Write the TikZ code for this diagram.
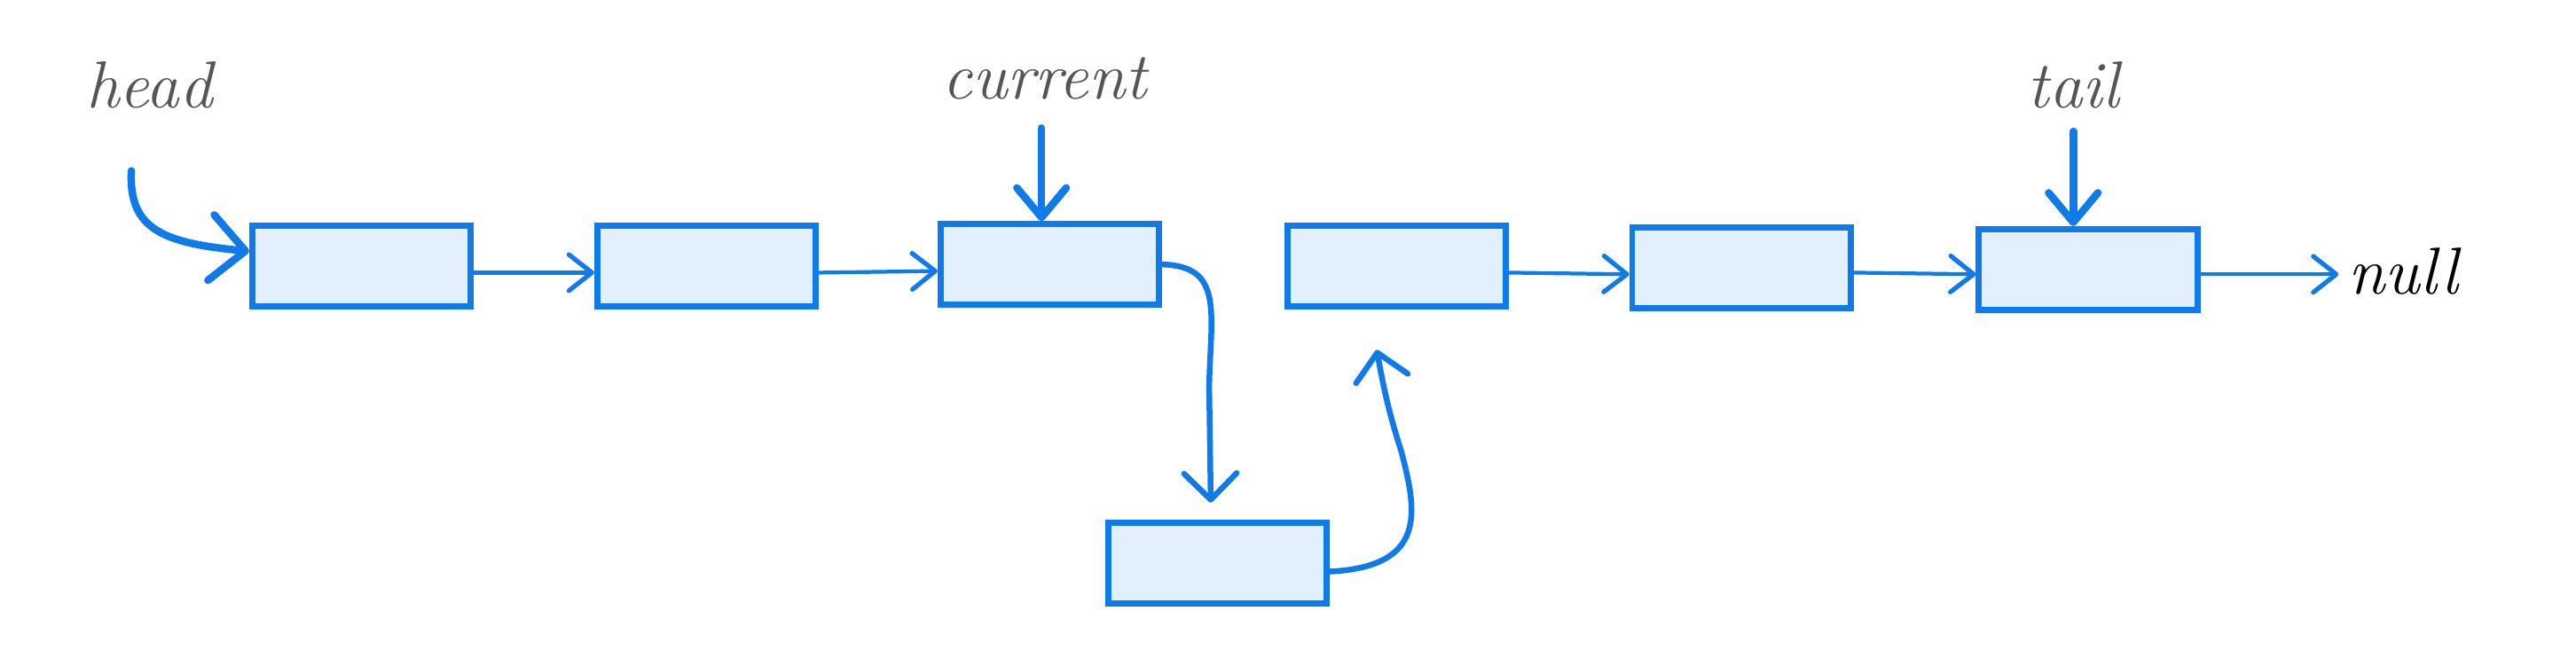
\documentclass[tikz,border=0pt]{standalone}
\usepackage{tikz}
\usetikzlibrary{arrows.meta}

\definecolor{lblue}{HTML}{0F7BEB}
\definecolor{lfill}{HTML}{E2F0FD}
\definecolor{lgray}{HTML}{555555}

\tikzset{
  cell/.style={draw=lblue, fill=lfill, line width=2.1pt,
    minimum width=2.66cm, minimum height=0.98cm, inner sep=0pt},
  link/.style={lblue, line width=1.3pt, line cap=round,
    -{Straight Barb[length=0.28cm, width=0.44cm, line width=1.6pt, round]}},
  detour/.style={lblue, line width=2pt, line cap=round,
    -{Straight Barb[length=0.32cm, width=0.64cm, round]}},
  ptr/.style={lblue, line width=2.6pt, line cap=round,
    -{Straight Barb[length=0.36cm, width=0.6cm, round]}},
  lbl/.style={text=lgray, font=\fontsize{23}{28}\selectfont\itshape}
}

\begin{document}
\begin{tikzpicture}[x=0.02cm, y=-0.02cm]
\useasboundingbox (0,0) rectangle (1568,405);

% list cells
\node[cell] (b1) at (220,162) {};
\node[cell] (b2) at (430,162) {};
\node[cell] (b3) at (639,161) {};
\node[cell] (b4) at (850,162) {};
\node[cell] (b5) at (1060,163) {};
\node[cell] (b6) at (1271,164) {};
\node[cell] (b7) at (741,343) {};

% labels
\node[lbl] (head) at (91,52) {head};
\node[lbl] (current) at (636,48) {current};
\node[lbl] (tail) at (1262,52) {tail};
\node[lbl, text=black] (null) at (1463,165) {null};

\coordinate (hp) at (80,104);
\coordinate (cp) at (634,78);
\coordinate (tp) at (1262,80);
\coordinate (dn) at (737,306);
\coordinate (up) at (838,213);

% pointers
\draw[ptr, -{Straight Barb[length=0.42cm, width=0.8cm, round]}]
  (hp) .. controls (78,140) and (100,148) .. ([yshift=0.18cm]b1.west);
\draw[ptr] (cp) -- (cp |- b3.north);
\draw[ptr] (tp) -- (tp |- b6.north);

% next links
\draw[link] ([yshift=-0.08cm]b1.east) -- ([yshift=-0.08cm]b2.west);
\draw[link] ([yshift=-0.08cm]b2.east) -- ([yshift=-0.08cm]b3.west);
\draw[link] ([yshift=-0.08cm]b4.east) -- ([yshift=-0.08cm]b5.west);
\draw[link] ([yshift=-0.06cm]b5.east) -- ([yshift=-0.06cm]b6.west);
\draw[link] ([yshift=-0.06cm]b6.east) -- ([yshift=-0.06cm]b6.east -| null.west);

% inserted cell
\draw[detour] (b3.east) .. controls (745,162) and (737,190) .. (736,235) -- (dn);
\draw[detour] ([yshift=-0.1cm]b7.east) .. controls (870,345) and (862,310) .. (853,275)
  .. controls (845,250) and (842,235) .. (up);
\end{tikzpicture}
\end{document}
